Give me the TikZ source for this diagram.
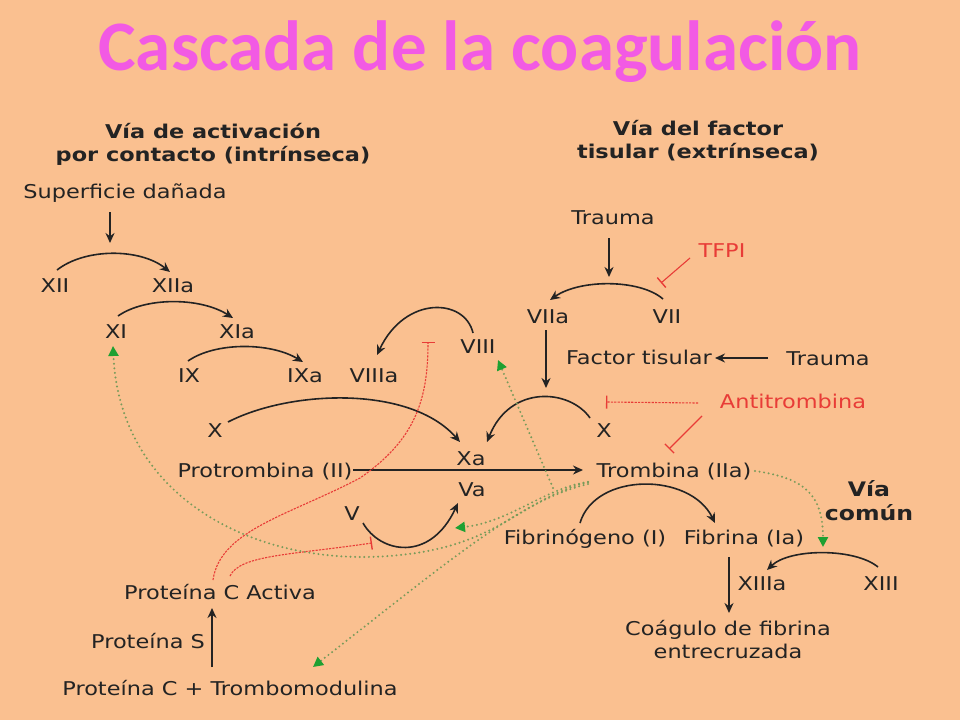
\documentclass[tikz,border=0pt]{standalone}
\usepackage{fontspec}
\setmainfont{DejaVu Sans}[FakeStretch=1.18]
\newfontfamily\titlefont{Carlito}
\usetikzlibrary{arrows.meta}
\definecolor{bg}{RGB}{250,192,144}
\definecolor{ink}{RGB}{35,35,35}
\definecolor{redc}{RGB}{232,60,55}
\definecolor{dotg}{RGB}{120,155,90}
\definecolor{arrg}{RGB}{30,160,50}
\definecolor{titlec}{RGB}{242,90,228}
\begin{document}
\begin{tikzpicture}[x=1pt,y=-1pt,
  lbl/.style={inner sep=0pt, anchor=base, text=ink, font=\fontsize{19}{23}\selectfont},
  hdr/.style={inner sep=0pt, align=center, text=ink, font=\fontsize{19}{23}\selectfont\bfseries},
  conv/.style={draw=ink, line width=1.6pt, -{Stealth[length=10pt,width=9pt]}},
  act/.style={draw=dotg, line width=2.2pt, line cap=round, dash pattern=on 0pt off 4.6pt, -{Triangle[length=10pt,width=10pt,color=arrg,line cap=butt]}},
  block/.style={draw=redc, line width=1.1pt, -{Bar[width=13pt,line width=1.4pt]}},
  blockd/.style={block, dash pattern=on 2.2pt off 1.2pt}]
\fill[bg] (0,0) rectangle (960,720);
\useasboundingbox (0,0) rectangle (960,720);
% title
\node[anchor=base, text=titlec, font=\titlefont\bfseries\fontsize{71}{80}\selectfont] (title) at (480,70) {Cascada de la coagulación};
% headers
\node[hdr] (hdr1) at (213,144) {Vía de activación\\por contacto (intrínseca)};
\node[hdr] (hdr2) at (698,141) {Vía del factor\\tisular (extrínseca)};
\node[hdr, font=\fontsize{20}{24}\selectfont\bfseries] (comun) at (869,501) {Vía\\común};
% labels
\node[lbl] (sup) at (125,198) {Superficie dañada};
\node[lbl] (XII) at (55,292) {XII};
\node[lbl] (XIIa) at (173,292) {XIIa};
\node[lbl] (XI) at (116,338) {XI};
\node[lbl] (XIa) at (237,338) {XIa};
\node[lbl] (IX) at (189,382) {IX};
\node[lbl] (IXa) at (305,382) {IXa};
\node[lbl] (VIIIa) at (374,382) {VIIIa};
\node[lbl] (VIII) at (478,353) {VIII};
\node[lbl] (Xl) at (215,437) {X};
\node[lbl] (Xa) at (471,465) {Xa};
\node[lbl] (Va) at (472,496) {Va};
\node[lbl] (prot) at (265,477) {Protrombina (II)};
\node[lbl] (V) at (352,520) {V};
\node[lbl] (pca) at (220,599) {Proteína C Activa};
\node[lbl] (ps) at (148,648) {Proteína S};
\node[lbl] (pctm) at (230,695) {Proteína C + Trombomodulina};
\node[lbl] (trauma1) at (613,224) {Trauma};
\node[lbl,text=redc] (tfpi) at (722,257) {TFPI};
\node[lbl] (VIIa) at (548,323) {VIIa};
\node[lbl] (VII) at (667,323) {VII};
\node[lbl] (ft) at (639,364) {Factor tisular};
\node[lbl] (trauma2) at (828,365) {Trauma};
\node[lbl,text=redc] (at) at (793,408) {Antitrombina};
\node[lbl] (Xr) at (604,437) {X};
\node[lbl] (trom) at (674,477) {Trombina (IIa)};
\node[lbl] (fibg) at (585,544) {Fibrinógeno (I)};
\node[lbl] (fib) at (744,544) {Fibrina (Ia)};
\node[lbl] (XIIIa) at (762,590) {XIIIa};
\node[lbl] (XIII) at (881,590) {XIII};
\node[lbl, anchor=center, align=center] (coag) at (728,640) {Coágulo de fibrina\\entrecruzada};
% black conversion arcs
\draw[conv] ([shift={(2,-22)}]XII.base) .. controls (85,248) and (140,248) .. ([shift={(-3,-20)}]XIIa.base);
\draw[conv] ([shift={(2,-22)}]XI.base) .. controls (145,297) and (200,297) .. ([shift={(-4,-20)}]XIa.base);
\draw[conv] ([shift={(-1,-21)}]IX.base) .. controls (215,342) and (270,342) .. ([shift={(-2,-20)}]IXa.base);
\draw[conv] ([shift={(-5,-20)}]VIII.base) .. controls (465,298) and (405,295) .. ([shift={(3,-27)}]VIIIa.base);
\draw[conv] ([shift={(13,-15)}]Xl.base) .. controls (290,390) and (410,385) .. ([shift={(-11,-23)}]Xa.base);
\draw[conv] ([shift={(-14,-19)}]Xr.base) .. controls (570,389) and (510,384) .. ([shift={(16,-23)}]Xa.base);
\draw[conv] ([shift={(11,3)}]V.base) .. controls (380,553) and (430,563) .. ([shift={(-14,7)}]Va.base);
\draw[conv] ([shift={(-4,-24)}]VII.base) .. controls (640,279) and (580,279) .. ([shift={(2,-23)}]VIIa.base);
\draw[conv] ([shift={(-5,-21)}]fibg.base) .. controls (595,472) and (690,472) .. ([shift={(-29,-21)}]fib.base);
\draw[conv] ([shift={(-3,-23)}]XIII.base) .. controls (855,548) and (790,548) .. ([shift={(5,-20)}]XIIIa.base);
% black straight arrows
\draw[conv] ([shift={(-15,14)}]sup.base) -- ([shift={(-15,45)}]sup.base);
\draw[conv] ([shift={(-4,14)}]trauma1.base) -- ([shift={(-4,53)}]trauma1.base);
\draw[conv] ([shift={(-2,7)}]VIIa.base) -- ([shift={(-2,65)}]VIIa.base);
\draw[conv] ([shift={(-60,-7)}]trauma2.base) -- ([shift={(76,-6)}]ft.base);
\draw[conv] ([shift={(88,-7)}]prot.base) -- ([shift={(-91,-7)}]trom.base);
\draw[conv] ([shift={(-15,13)}]fib.base) -- ([shift={(-15,69)}]fib.base);
\draw[conv] ([shift={(-18,-28)}]pctm.base) -- ([shift={(-8,9)}]pca.base);
% red inhibitions
\draw[block] ([shift={(-32,1)}]tfpi.base) -- ([shift={(-6,-40)}]VII.base);
\draw[blockd] ([shift={(-95,-5)}]at.base) -- ([shift={(2,-35)}]Xr.base);
\draw[block] ([shift={(-91,8)}]at.base) -- ([shift={(-5,-28)}]trom.base);
\draw[blockd] ([shift={(-7,-19)}]pca.base) .. controls (220,530) and (290,515) .. (360,478)
   .. controls (415,440) and (428,400) .. ([shift={(-50,-11)}]VIII.base);
\draw[blockd] ([shift={(10,-23)}]pca.base) .. controls (240,555) and (290,555) .. ([shift={(20,23)}]V.base);
% green activations by thrombin
\draw[act] ([shift={(-86,5)}]trom.base) .. controls (520,500) and (500,545) .. (400,555)
   .. controls (260,570) and (120,500) .. ([shift={(-3,8)}]XI.base);
\draw[act] ([shift={(-86,5)}]trom.base) .. controls (545,488) and (510,522) .. ([shift={(-17,32)}]Va.base);
\draw[act] ([shift={(-121,11)}]trom.base) -- ([shift={(20,7)}]VIII.base);
\draw[act] ([shift={(-86,7)}]trom.base) .. controls (520,500) and (450,560) .. ([shift={(83,-28)}]pctm.base);
\draw[act] ([shift={(81,-6)}]trom.base) .. controls (805,478) and (823,495) .. ([shift={(61,-43)}]XIIIa.base);
\end{tikzpicture}
\end{document}
